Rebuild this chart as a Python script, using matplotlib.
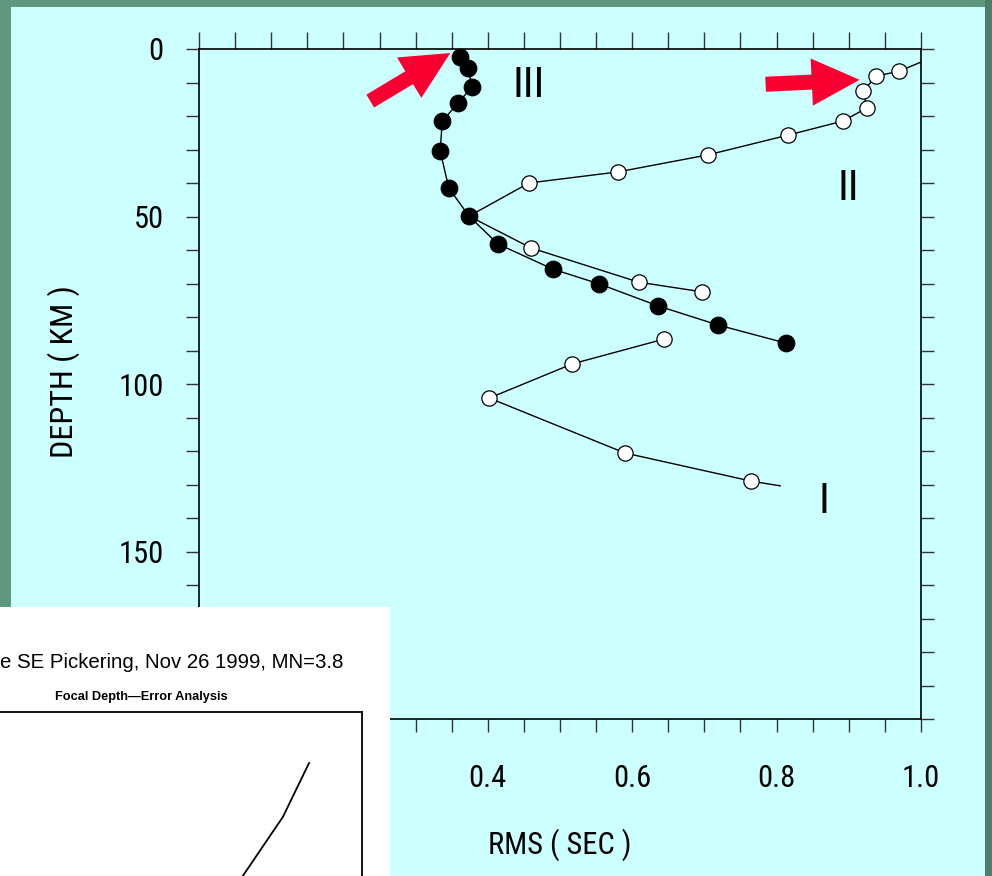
import matplotlib
matplotlib.use("Agg")
import matplotlib.pyplot as plt
from matplotlib.patches import Rectangle
from matplotlib.ticker import MultipleLocator, FixedLocator, FixedFormatter

# ---------------- data ----------------
rms_III = [0.361, 0.373, 0.378, 0.359, 0.337, 0.334, 0.346, 0.374, 0.414, 0.490, 0.554, 0.636, 0.719, 0.813]
depth_III = [2.4, 5.7, 11.3, 16.1, 21.5, 30.4, 41.5, 49.9, 58.2, 65.7, 70.1, 76.7, 82.4, 87.8]

rms_II = [1.0, 0.970, 0.938, 0.920, 0.925, 0.892, 0.816, 0.705, 0.580, 0.457, 0.374, 0.460, 0.609, 0.697]
depth_II = [3.9, 6.6, 8.1, 12.5, 17.6, 21.5, 25.7, 31.6, 36.7, 40.0, 49.9, 59.4, 69.6, 72.5]

rms_I = [0.644, 0.517, 0.402, 0.590, 0.765, 0.805]
depth_I = [86.6, 94.0, 104.2, 120.6, 129.0, 130.4]

x_major = [0.0, 0.2, 0.4, 0.6, 0.8, 1.0]
x_tick_labels = ["0.0", "0.2", "0.4", "0.6", "0.8", "1.0"]
y_major = [0, 50, 100, 150, 200]
y_tick_labels = ["0", "50", "100", "150", "200"]

curve_labels = ["III", "II", "I"]
curve_label_pos = [(0.456, 10.8), (0.899, 41.5), (0.866, 135.0)]

# inset (pasted figure) curve, in its own unit coordinates
inset_x = [0.865, 0.798, 0.758, 0.696]
inset_y = [0.723, 0.429, 0.304, 0.109]
inset_title = "e SE Pickering, Nov 26 1999, MN=3.8"
inset_subtitle = "Focal Depth\u2014Error Analysis"

# ---------------- figure ----------------
W, H = 992, 876
fig = plt.figure(figsize=(W / 100, H / 100), dpi=100)
fig.patch.set_facecolor("#5E987F")

narrow = ["Roboto Condensed", "DejaVu Sans"]

# cyan slide panel
fig.patches.append(Rectangle((11 / W, 0), (985 - 11) / W, (H - 7) / H,
                             transform=fig.transFigure, facecolor="#CCFFFF",
                             edgecolor="none", zorder=-2))
fig.patches.append(Rectangle((985 / W, 0), 7 / W, 1.0,
                             transform=fig.transFigure, facecolor="#4D7F68",
                             edgecolor="none", zorder=-2))

ax = fig.add_axes([199 / W, (H - 719) / H, 722 / W, 670 / H])
ax.set_facecolor("none")
ax.set_xlim(0, 1.0)
ax.set_ylim(200, 0)

lw = 1.0
ax.plot(rms_I, depth_I, color="black", lw=lw, marker="o", ms=11,
        mfc="white", mec="black", mew=0.9, markevery=slice(0, 5), zorder=3)
ax.plot(rms_II, depth_II, color="black", lw=lw, marker="o", ms=11,
        mfc="white", mec="black", mew=0.9, markevery=slice(1, None), zorder=3)
ax.plot(rms_III, depth_III, color="black", lw=lw, marker="o", ms=12,
        mfc="black", mec="black", mew=0.8, zorder=4)

for lab, (lx, ly) in zip(curve_labels, curve_label_pos):
    ax.text(lx, ly, lab, fontsize=31, family=narrow, ha="center", va="center",
            color="black")

# ticks
ax.xaxis.set_major_locator(FixedLocator(x_major))
ax.xaxis.set_major_formatter(FixedFormatter(x_tick_labels))
ax.xaxis.set_minor_locator(MultipleLocator(0.05))
ax.yaxis.set_major_locator(FixedLocator(y_major))
ax.yaxis.set_major_formatter(FixedFormatter(y_tick_labels))
ax.yaxis.set_minor_locator(MultipleLocator(10))
ax.tick_params(which="both", direction="out", length=9.5, width=1.0,
               color="#333333", top=True, right=True, labeltop=False,
               labelright=False)
ax.tick_params(axis="x", which="major", labelsize=22, pad=23)
ax.tick_params(axis="y", which="major", labelsize=22, pad=16)
for t in ax.xaxis.get_major_ticks() + ax.xaxis.get_minor_ticks():
    t.tick2line.set_markersize(12.5)
for lab in ax.get_xticklabels() + ax.get_yticklabels():
    lab.set_family(narrow)
for s in ax.spines.values():
    s.set_linewidth(1.2)

ax.set_xlabel("RMS ( SEC )", fontsize=22, family=narrow, va="center")
ax.xaxis.set_label_coords(0.500, -0.187)
ax.set_ylabel("DEPTH ( KM )", fontsize=23, family=narrow, va="center")
ax.yaxis.set_label_coords(-0.188, 0.518)

# red arrows
red = "#FA0032"
arrow_style = "simple,head_length=34.5,head_width=34,tail_width=10.8"
ax.annotate("", xy=(0.348, 1.2), xytext=(-57.6, -34.6), textcoords="offset points",
            annotation_clip=False,
            arrowprops=dict(arrowstyle=arrow_style, mutation_scale=1, color=red,
                            shrinkA=0, shrinkB=0, lw=0))
ax.annotate("", xy=(0.915, 9.2), xytext=(-67.7, -3.2), textcoords="offset points",
            annotation_clip=False,
            arrowprops=dict(arrowstyle=arrow_style, mutation_scale=1, color=red,
                            shrinkA=0, shrinkB=0, lw=0))

# pasted inset figure (white panel, bottom left)
bg = fig.add_axes([0, 0, 390 / W, (H - 607) / H], zorder=5)
bg.set_facecolor("white")
bg.set_xticks([]); bg.set_yticks([])
for s in bg.spines.values():
    s.set_visible(False)
bg.text(0.0, (H - 662) / (H - 607), inset_title, transform=bg.transAxes,
        fontsize=14.7, family="Liberation Sans", ha="left", va="center")
bg.text(141 / 390, (H - 697) / (H - 607), inset_subtitle, transform=bg.transAxes,
        fontsize=9.2, fontweight="bold", family="Liberation Sans", ha="center", va="center")

iax = fig.add_axes([-30 / W, -20 / H, 392 / W, (H - 712 + 20) / H], zorder=6)
iax.set_facecolor("none")
iax.set_xlim(0, 1); iax.set_ylim(0, 1)
iax.set_xticks([]); iax.set_yticks([])
for side in ["left", "bottom"]:
    iax.spines[side].set_visible(False)
for side in ["top", "right"]:
    iax.spines[side].set_linewidth(1.3)
iax.plot(inset_x, inset_y, color="black", lw=1.3)

fig.savefig("out.png", dpi=100, facecolor=fig.get_facecolor())
